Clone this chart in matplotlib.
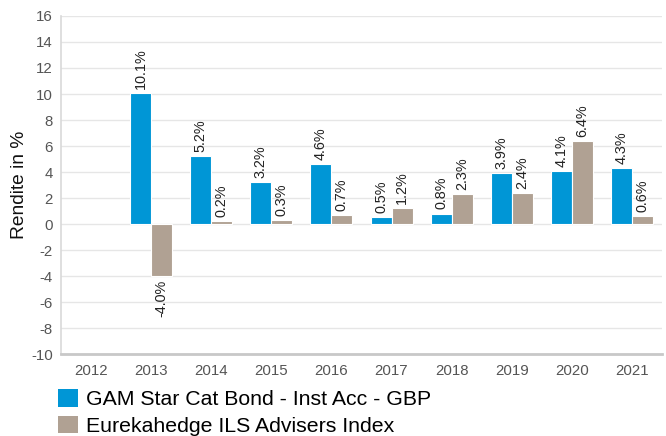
import numpy as np
import matplotlib
matplotlib.use("Agg")
from matplotlib import pyplot as plt
from matplotlib.patches import Patch

# data
years = ["2012", "2013", "2014", "2015", "2016", "2017", "2018", "2019", "2020", "2021"]
gam_values = [np.nan, 10.1, 5.2, 3.2, 4.6, 0.5, 0.8, 3.9, 4.1, 4.3]
eureka_values = [np.nan, -4.0, 0.2, 0.3, 0.7, 1.2, 2.3, 2.4, 6.4, 0.6]
series_names = ["GAM Star Cat Bond - Inst Acc - GBP", "Eurekahedge ILS Advisers Index"]
y_ticks = list(range(-10, 17, 2))

blue = "#0096d6"
taupe = "#b0a193"

plt.rcParams['font.family'] = ['Liberation Sans', 'DejaVu Sans']
plt.rcParams['axes.unicode_minus'] = False

fig = plt.figure(figsize=(6.66, 4.36), dpi=100)
ax = fig.add_axes([61 / 666, 1 - 354 / 436, 601 / 666, 338 / 436])

x = np.arange(len(years))
w = 0.35
b1 = ax.bar(x - w / 2, gam_values, w, color=blue, edgecolor="white", linewidth=0.8, zorder=3)
b2 = ax.bar(x + w / 2, eureka_values, w, color=taupe, edgecolor="white", linewidth=0.8, zorder=3)

# rotated value labels
for bars, vals in ((b1, gam_values), (b2, eureka_values)):
	for rect, v in zip(bars, vals):
		if np.isnan(v):
			continue
		cx = rect.get_x() + rect.get_width() / 2
		if v >= 0:
			ax.annotate("%.1f%%" % v, (cx, v), xytext=(0, 3), textcoords="offset points",
				rotation=90, ha="center", va="bottom", fontsize=10.4, color="#222222")
		else:
			ax.annotate("%.1f%%" % v, (cx, v), xytext=(0, -3), textcoords="offset points",
				rotation=90, ha="center", va="top", fontsize=10.4, color="#222222")

ax.set_xlim(-0.5, len(years) - 0.5)
ax.set_ylim(-10, 16)
ax.set_yticks(y_ticks)
ax.set_xticks(x)
ax.set_xticklabels(years)
ax.tick_params(axis="both", length=0, labelsize=10.8, labelcolor="#555555")
ax.tick_params(axis="x", pad=7)
ax.tick_params(axis="y", pad=6)
ax.grid(axis="y", color="#e6e6e6", linewidth=1, zorder=0)
ax.set_axisbelow(True)

for s in ("top", "right"):
	ax.spines[s].set_visible(False)
ax.spines["left"].set_color("#d9d9d9")
ax.spines["left"].set_linewidth(1.2)
ax.spines["bottom"].set_color("#c8c8c8")
ax.spines["bottom"].set_linewidth(2)

ax.set_ylabel("Rendite in %", fontsize=13.8, color="#111111")
ax.yaxis.set_label_coords(-0.055, 0.5)

handles = [Patch(facecolor=blue), Patch(facecolor=taupe)]
fig.legend(handles, series_names, loc="upper left", bbox_to_anchor=(58 / 666, 1 - 389 / 436),
	frameon=False, fontsize=15.3, handlelength=0.95, handleheight=0.9, handletextpad=0.35,
	labelspacing=0.3, borderaxespad=0, borderpad=0)

fig.savefig("out.png", dpi=100)
